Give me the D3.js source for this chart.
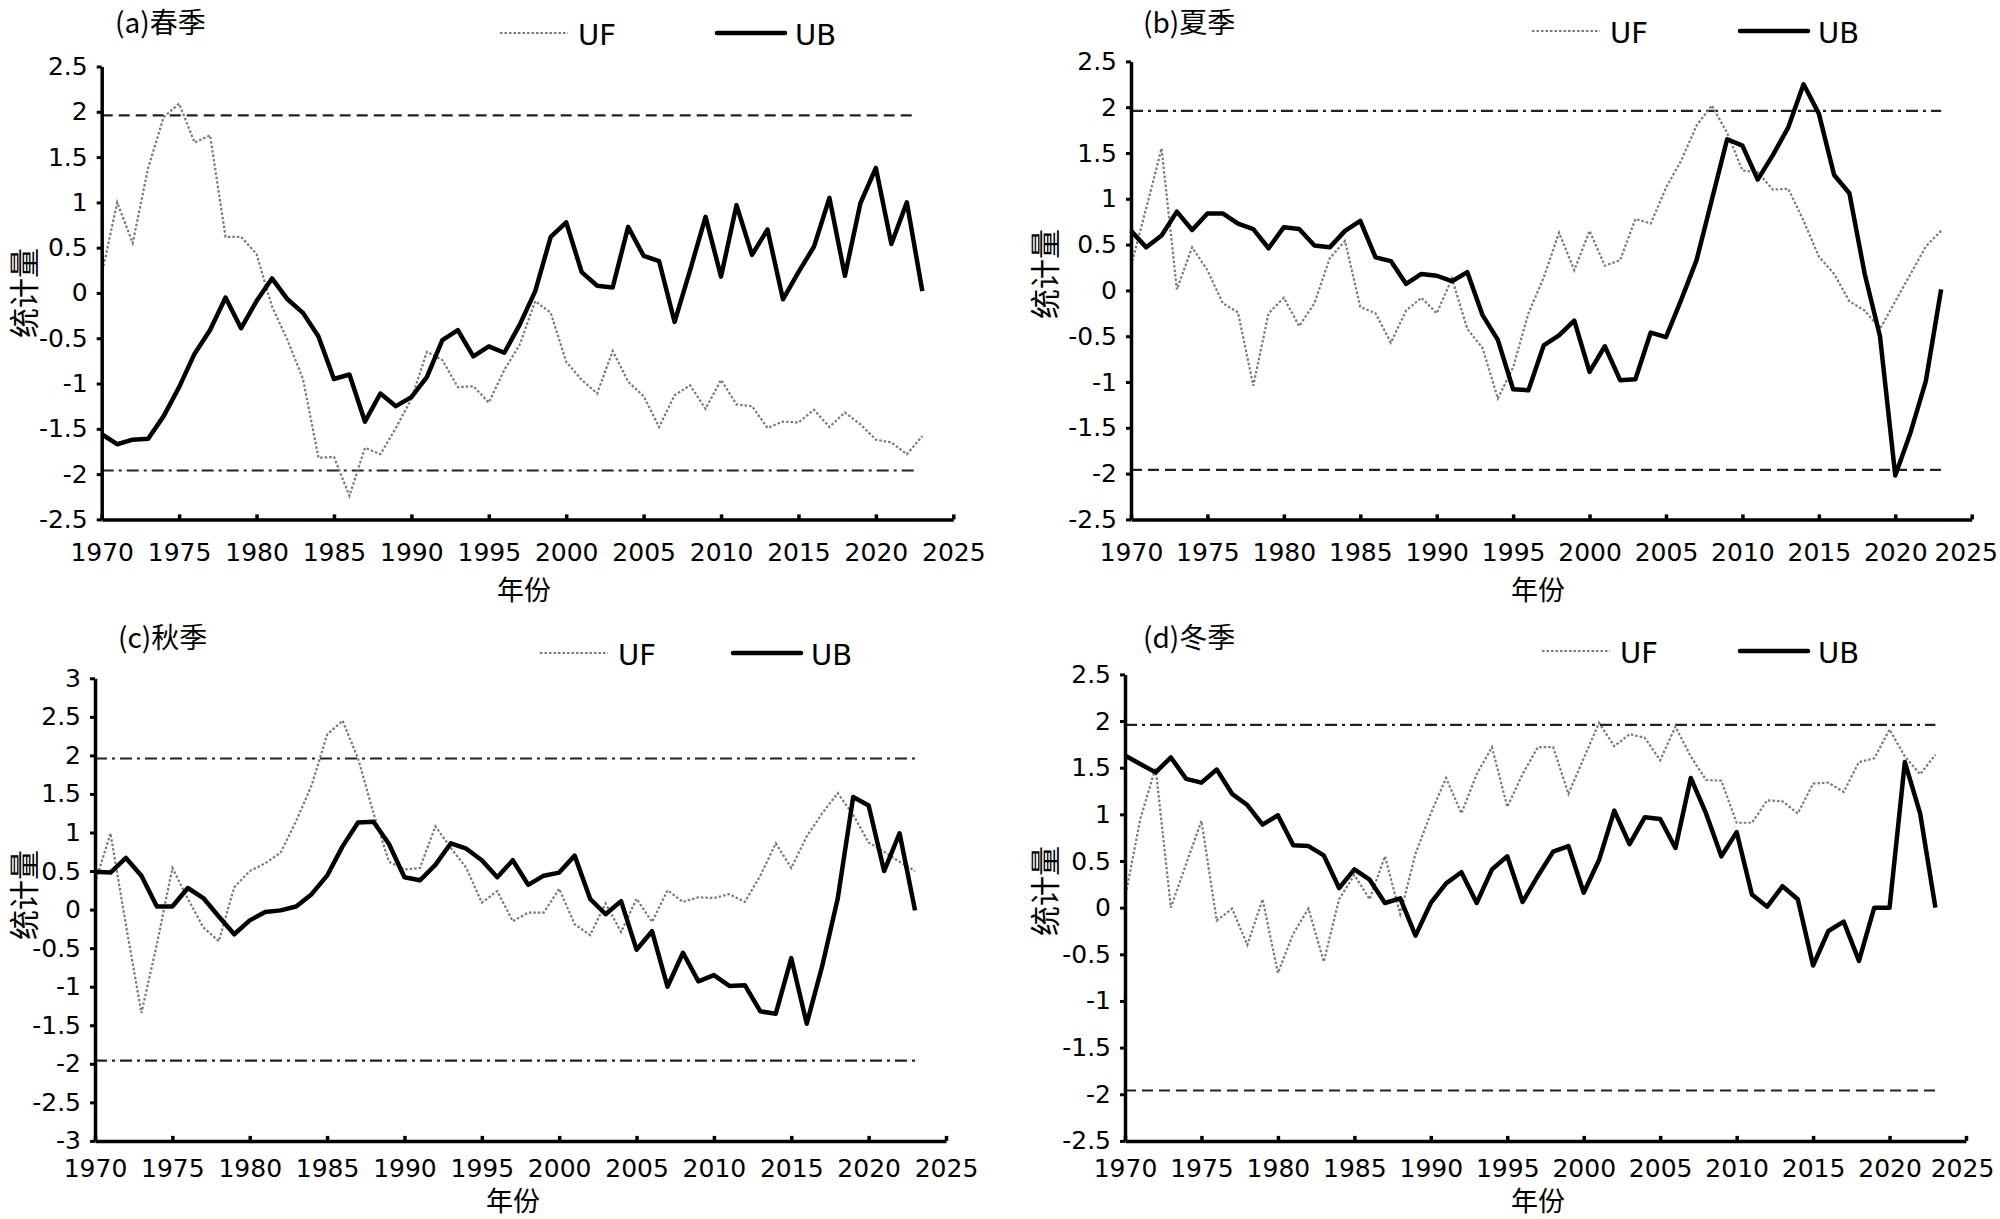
<!DOCTYPE html>
<html>
<head>
<meta charset="utf-8">
<script src="https://cdn.jsdelivr.net/npm/d3@7"></script>
<style>
body { margin: 0; background: #fff; }
</style>
</head>
<body>
<svg id="chart" width="2000" height="1219"></svg>
<script>
// years 1970-2023
var years = [1970,1971,1972,1973,1974,1975,1976,1977,1978,1979,
             1980,1981,1982,1983,1984,1985,1986,1987,1988,1989,
             1990,1991,1992,1993,1994,1995,1996,1997,1998,1999,
             2000,2001,2002,2003,2004,2005,2006,2007,2008,2009,
             2010,2011,2012,2013,2014,2015,2016,2017,2018,2019,
             2020,2021,2022,2023];

var springUF = [0.20,1.00,0.55,1.38,1.94,2.09,1.66,1.74,0.62,0.62,
                0.43,-0.15,-0.52,-0.95,-1.82,-1.81,-2.24,-1.71,-1.78,-1.49,
                -1.17,-0.65,-0.74,-1.04,-1.03,-1.21,-0.85,-0.57,-0.09,-0.22,
                -0.76,-0.96,-1.11,-0.64,-0.98,-1.14,-1.48,-1.13,-1.02,-1.28,
                -0.96,-1.23,-1.25,-1.49,-1.42,-1.43,-1.29,-1.48,-1.32,-1.45,
                -1.62,-1.65,-1.78,-1.58];
var springUB = [-1.56,-1.67,-1.62,-1.61,-1.36,-1.04,-0.67,-0.41,-0.05,-0.39,
                -0.09,0.16,-0.07,-0.22,-0.48,-0.95,-0.90,-1.42,-1.11,-1.25,
                -1.15,-0.93,-0.52,-0.41,-0.70,-0.59,-0.66,-0.35,0.02,0.62,
                0.78,0.23,0.08,0.06,0.73,0.41,0.35,-0.32,0.25,0.84,
                0.18,0.97,0.42,0.70,-0.07,0.23,0.51,1.05,0.19,0.99,
                1.38,0.54,1.00,0.02];

var summerUF = [0.27,0.90,1.55,0.01,0.47,0.22,-0.14,-0.24,-1.04,-0.25,
                -0.08,-0.39,-0.14,0.35,0.54,-0.18,-0.25,-0.57,-0.22,-0.08,
                -0.25,0.13,-0.42,-0.63,-1.18,-0.84,-0.25,0.14,0.63,0.22,
                0.65,0.27,0.33,0.78,0.73,1.12,1.42,1.80,2.02,1.72,
                1.31,1.29,1.10,1.11,0.76,0.37,0.18,-0.12,-0.22,-0.42,
                -0.12,0.18,0.48,0.65];
var summerUB = [0.65,0.47,0.60,0.86,0.66,0.84,0.84,0.73,0.67,0.46,
                0.69,0.67,0.49,0.47,0.65,0.76,0.36,0.32,0.07,0.18,
                0.16,0.10,0.20,-0.27,-0.54,-1.08,-1.09,-0.60,-0.49,-0.33,
                -0.89,-0.61,-0.98,-0.97,-0.46,-0.51,-0.10,0.33,0.99,1.65,
                1.58,1.21,1.48,1.78,2.25,1.93,1.26,1.06,0.18,-0.50,
                -2.02,-1.55,-0.99,0.01];

var autumnUF = [0.34,0.99,-0.20,-1.34,-0.45,0.54,0.14,-0.23,-0.41,0.29,
                0.50,0.60,0.74,1.15,1.61,2.27,2.45,1.96,1.25,0.62,
                0.52,0.54,1.08,0.80,0.54,0.09,0.24,-0.15,-0.04,-0.04,
                0.27,-0.19,-0.33,0.08,-0.29,0.14,-0.16,0.25,0.10,0.16,
                0.15,0.20,0.10,0.44,0.86,0.54,0.95,1.25,1.51,1.23,
                0.87,0.75,0.62,0.50];
var autumnUB = [0.49,0.48,0.67,0.44,0.04,0.04,0.28,0.15,-0.09,-0.32,
                -0.14,-0.03,-0.01,0.04,0.20,0.44,0.82,1.13,1.14,0.85,
                0.42,0.38,0.58,0.86,0.79,0.64,0.42,0.64,0.32,0.44,
                0.48,0.70,0.14,-0.06,0.11,-0.52,-0.28,-1.00,-0.56,-0.93,
                -0.85,-0.99,-0.98,-1.32,-1.35,-0.63,-1.48,-0.73,0.14,1.46,
                1.35,0.50,0.99,-0.01];

var winterUF = [0.10,0.95,1.50,0.00,0.47,0.93,-0.14,-0.01,-0.40,0.09,
                -0.70,-0.28,-0.01,-0.58,0.09,0.35,0.09,0.55,-0.07,0.58,
                1.01,1.39,1.01,1.43,1.72,1.08,1.43,1.72,1.72,1.22,
                1.60,1.98,1.73,1.86,1.82,1.58,1.94,1.62,1.37,1.36,
                0.91,0.91,1.15,1.14,1.01,1.33,1.34,1.24,1.56,1.60,
                1.91,1.62,1.43,1.64];
var winterUB = [1.63,1.54,1.45,1.61,1.38,1.34,1.48,1.22,1.10,0.89,
                0.99,0.67,0.66,0.56,0.21,0.41,0.30,0.05,0.10,-0.30,
                0.05,0.26,0.38,0.05,0.41,0.55,0.06,0.34,0.60,0.66,
                0.16,0.51,1.04,0.68,0.97,0.95,0.64,1.39,1.01,0.55,
                0.81,0.14,0.01,0.23,0.09,-0.62,-0.25,-0.15,-0.57,0.00,
                0.00,1.56,1.01,0.00];

var xTicks = [1970,1975,1980,1985,1990,1995,2000,2005,2010,2015,2020,2025];
var yTicks25 = [2.5,2,1.5,1,0.5,0,-0.5,-1,-1.5,-2,-2.5];
var yTicks3 = [3,2.5,2,1.5,1,0.5,0,-0.5,-1,-1.5,-2,-2.5,-3];
var critical = 1.96;

var panels = [
    {title:"(a)春季", uf:springUF, ub:springUB, yTicks:yTicks25, refEnd:2022.5,
     upper:"dash", lower:"dashdot",
     left:101.7, right:953.3, top:66.5, bottom:519.4, yearDy:42, lastDx:0,
     titleX:115, titleY:33, ufX:500, ubX:717, legY:33, yLabX:22, yLabY:293, xLabX:524, xLabY:600},
    {title:"(b)夏季", uf:summerUF, ub:summerUB, yTicks:yTicks25, refEnd:2023,
     upper:"dashdot", lower:"dash",
     left:1131, right:1971.7, top:61.4, bottom:519.4, yearDy:42, lastDx:-6,
     titleX:1143, titleY:33, ufX:1532, ubX:1740, legY:31, yLabX:1043, yLabY:274, xLabX:1538, xLabY:600},
    {title:"(c)秋季", uf:autumnUF, ub:autumnUB, yTicks:yTicks3, refEnd:2023.2,
     upper:"dashdot", lower:"dashdot",
     left:95, right:946, top:678.3, bottom:1140.9, yearDy:36, lastDx:0,
     titleX:118, titleY:648, ufX:540, ubX:733, legY:653, yLabX:22, yLabY:895, xLabX:513, xLabY:1211},
    {title:"(d)冬季", uf:winterUF, ub:winterUB, yTicks:yTicks25, refEnd:2023,
     upper:"dashdot", lower:"dash",
     left:1125, right:1966, top:674.4, bottom:1140.9, yearDy:36, lastDx:-4,
     titleX:1143, titleY:648, ufX:1542, ubX:1740, legY:651, yLabX:1043, yLabY:891, xLabX:1538, xLabY:1211}
];

var svg = d3.select("#chart");
svg.append("rect").attr("width",2000).attr("height",1219).attr("fill","#fff");

var latin = "'DejaVu Sans', sans-serif";
var cjk = "'Noto Sans CJK SC', sans-serif";

// dash patterns for the critical lines
function dashFor(style){
    if(style == "dash") return "11,6";
    return "12,5,3,5";
}

function drawPanel(p){
    var g = svg.append("g");
    var yMax = p.yTicks[0];
    var x = d3.scaleLinear().domain([1970,2025]).range([p.left,p.right]);
    var y = d3.scaleLinear().domain([-yMax,yMax]).range([p.bottom,p.top]);

    // critical value lines (+-1.96)
    var refs = [{v:critical, style:p.upper},{v:-critical, style:p.lower}];
    g.selectAll("line.ref").data(refs).enter().append("line")
        .attr("class","ref")
        .attr("x1",x(1970)).attr("x2",x(p.refEnd))
        .attr("y1",function(d){ return y(d.v); })
        .attr("y2",function(d){ return y(d.v); })
        .attr("stroke","#222")
        .attr("stroke-width",2.2)
        .attr("stroke-dasharray",function(d){ return dashFor(d.style); });

    var line = d3.line()
        .x(function(d,i){ return x(years[i]); })
        .y(function(d){ return y(d); });

    g.append("path").datum(p.uf)
        .attr("d",line)
        .attr("fill","none")
        .attr("stroke","#7a7a7a")
        .attr("stroke-width",2.2)
        .attr("stroke-dasharray","2.5,2");

    g.append("path").datum(p.ub)
        .attr("d",line)
        .attr("fill","none")
        .attr("stroke","#000")
        .attr("stroke-width",4.5)
        .attr("stroke-linejoin","round");

    // axes
    var gx = g.append("g")
        .attr("transform","translate(0,"+p.bottom+")")
        .call(d3.axisBottom(x).tickValues(xTicks).tickSize(-5).tickSizeOuter(0)
            .tickFormat(function(d){ return String(d); }));
    gx.attr("font-family",latin).attr("font-size",25);
    gx.select(".domain").attr("stroke","#000").attr("stroke-width",3.5);
    gx.selectAll(".tick line").attr("stroke","#000").attr("stroke-width",3.5);
    gx.selectAll(".tick text").attr("y",p.yearDy).attr("dy",null).attr("fill","#000")
        .attr("dx",function(d){ return d == 2025 ? p.lastDx : 0; });

    var gy = g.append("g")
        .attr("transform","translate("+p.left+",0)")
        .call(d3.axisLeft(y).tickValues(p.yTicks).tickSize(5).tickSizeOuter(0).tickPadding(9)
            .tickFormat(function(d){ return String(d); }));
    gy.attr("font-family",latin).attr("font-size",25);
    gy.select(".domain").attr("stroke","#000").attr("stroke-width",3.5);
    gy.selectAll(".tick line").attr("stroke","#000").attr("stroke-width",3);
    gy.selectAll(".tick text").attr("fill","#000");

    // title
    g.append("text")
        .attr("x",p.titleX).attr("y",p.titleY)
        .attr("font-family",cjk).attr("font-size",28)
        .text(p.title);

    // axis titles
    g.append("text")
        .attr("transform","translate("+p.yLabX+","+p.yLabY+") rotate(-90)")
        .attr("text-anchor","middle")
        .attr("dominant-baseline","central")
        .attr("font-family",cjk).attr("font-size",30)
        .text("统计量");

    g.append("text")
        .attr("x",p.xLabX).attr("y",p.xLabY)
        .attr("text-anchor","middle")
        .attr("font-family",cjk).attr("font-size",27)
        .text("年份");

    // legend
    g.append("line")
        .attr("x1",p.ufX).attr("x2",p.ufX+68)
        .attr("y1",p.legY).attr("y2",p.legY)
        .attr("stroke","#7a7a7a").attr("stroke-width",2.2).attr("stroke-dasharray","2.5,2");
    g.append("text")
        .attr("x",p.ufX+78).attr("y",p.legY+12)
        .attr("font-family",latin).attr("font-size",29)
        .text("UF");
    g.append("line")
        .attr("x1",p.ubX).attr("x2",p.ubX+68)
        .attr("y1",p.legY).attr("y2",p.legY)
        .attr("stroke","#000").attr("stroke-width",4.5).attr("stroke-linecap","round");
    g.append("text")
        .attr("x",p.ubX+78).attr("y",p.legY+12)
        .attr("font-family",latin).attr("font-size",29)
        .text("UB");
}

panels.forEach(drawPanel);
</script>
</body>
</html>
